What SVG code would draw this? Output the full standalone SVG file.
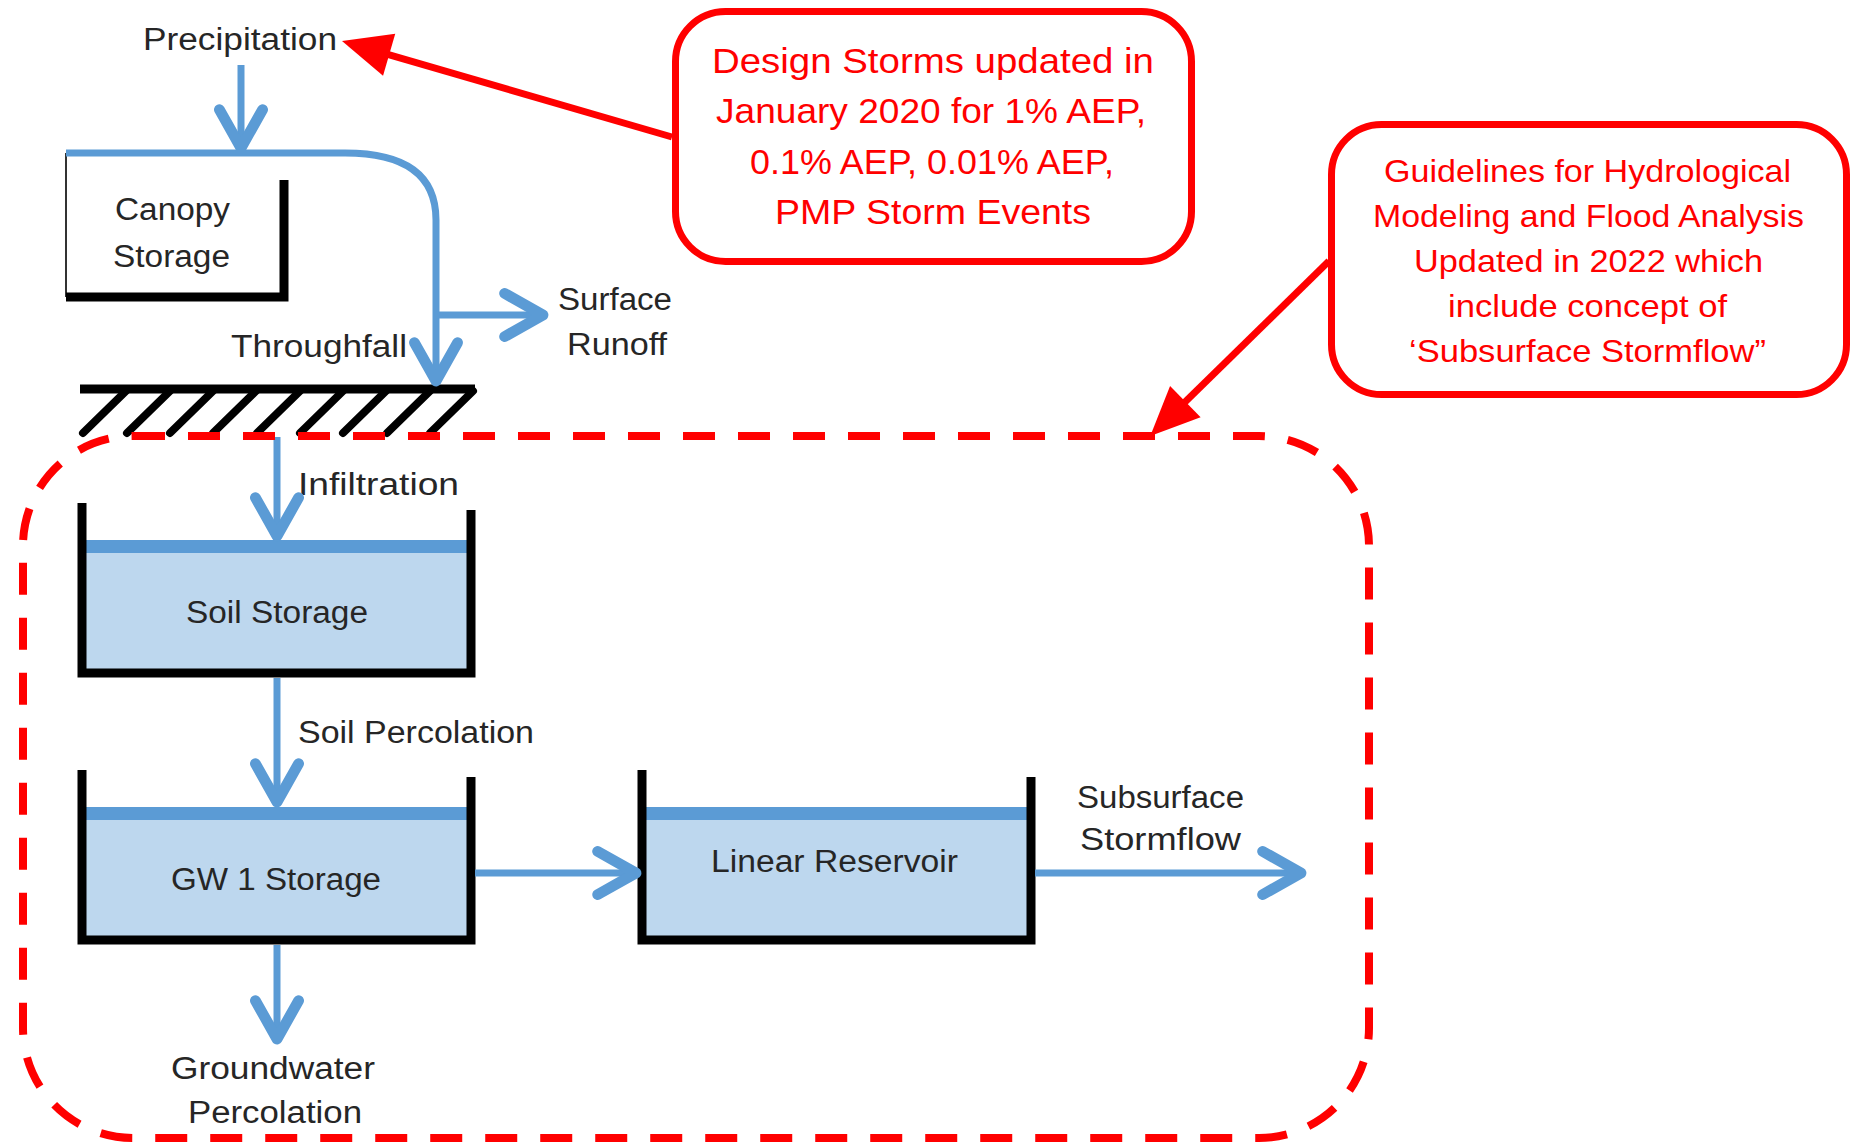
<svg xmlns="http://www.w3.org/2000/svg" width="1858" height="1142" viewBox="0 0 1858 1142">
<defs>
<style>
.lbl{font-family:"Liberation Sans",Arial,sans-serif;font-size:31px;fill:#262626}
.red{font-family:"Liberation Sans",Arial,sans-serif;fill:#FF0000}
.c1{font-size:35px}
.c2{font-size:32px}
.flow{fill:none;stroke:#5B9BD5;stroke-width:7}
.wall{fill:none;stroke:#000;stroke-width:9}
.water{fill:#BDD7EE}
.surf{fill:#5B9BD5}
.box{fill:#fff;stroke:#FF0000;stroke-width:7}
.ptr{fill:none;stroke:#FF0000;stroke-width:7}
</style>
<marker id="bh" markerUnits="userSpaceOnUse" markerWidth="60" markerHeight="60" viewBox="-40 -25 50 50" refX="0" refY="0" orient="auto" overflow="visible">
<path d="M-32,-18 L0,0 L-32,18" fill="none" stroke="#5B9BD5" stroke-width="9" stroke-linecap="round" stroke-linejoin="round"/>
</marker>
<marker id="rh" markerUnits="userSpaceOnUse" markerWidth="60" markerHeight="60" viewBox="-5 -25 55 50" refX="0" refY="0" orient="auto" overflow="visible">
<path d="M-3,-20 L42,0 L-3,20 z" fill="#FF0000"/>
</marker>
</defs>
<rect width="1858" height="1142" fill="#fff"/>

<g id="canopy-storage">
<line x1="66" y1="153" x2="66" y2="297" stroke="#333" stroke-width="2"/>
<polyline points="66,297 284,297 284,180" class="wall"/>
<text class="lbl" x="115" y="220" textLength="115" lengthAdjust="spacingAndGlyphs">Canopy</text>
<text class="lbl" x="113" y="267" textLength="117" lengthAdjust="spacingAndGlyphs">Storage</text>
</g>

<g id="ground">
<line x1="80" y1="389" x2="475" y2="389" stroke="#000" stroke-width="9"/>
<g stroke="#000" stroke-width="8" stroke-linecap="round">
<line x1="126" y1="391" x2="83" y2="433"/>
<line x1="170" y1="391" x2="127" y2="433"/>
<line x1="213" y1="391" x2="170" y2="433"/>
<line x1="256" y1="391" x2="213" y2="433"/>
<line x1="300" y1="391" x2="257" y2="433"/>
<line x1="343" y1="391" x2="300" y2="433"/>
<line x1="386" y1="391" x2="343" y2="433"/>
<line x1="430" y1="391" x2="387" y2="433"/>
<line x1="473" y1="391" x2="430" y2="433"/>
</g>
</g>

<g id="soil-storage">
<rect x="86" y="553" width="381" height="116" class="water"/>
<rect x="86" y="540" width="381" height="13" class="surf"/>
<polyline points="82,503 82,673 471,673 471,510" class="wall"/>
<text class="lbl" x="186" y="623" textLength="182" lengthAdjust="spacingAndGlyphs">Soil Storage</text>
</g>

<g id="gw1-storage">
<rect x="86" y="820" width="381" height="116" class="water"/>
<rect x="86" y="807" width="381" height="13" class="surf"/>
<polyline points="82,770 82,940 471,940 471,777" class="wall"/>
<text class="lbl" x="171" y="890" textLength="210" lengthAdjust="spacingAndGlyphs">GW 1 Storage</text>
</g>

<g id="linear-reservoir">
<rect x="646" y="820" width="381" height="116" class="water"/>
<rect x="646" y="807" width="381" height="13" class="surf"/>
<polyline points="642,770 642,940 1031,940 1031,777" class="wall"/>
<text class="lbl" x="711" y="872" textLength="247" lengthAdjust="spacingAndGlyphs">Linear Reservoir</text>
</g>

<g id="labels">
<text class="lbl" x="143" y="50" textLength="194" lengthAdjust="spacingAndGlyphs">Precipitation</text>
<text class="lbl" x="558" y="310" textLength="114" lengthAdjust="spacingAndGlyphs">Surface</text>
<text class="lbl" x="567" y="355" textLength="100" lengthAdjust="spacingAndGlyphs">Runoff</text>
<text class="lbl" x="231" y="357" textLength="176" lengthAdjust="spacingAndGlyphs">Throughfall</text>
<text class="lbl" x="298" y="495" textLength="161" lengthAdjust="spacingAndGlyphs">Infiltration</text>
<text class="lbl" x="298" y="743" textLength="236" lengthAdjust="spacingAndGlyphs">Soil Percolation</text>
<text class="lbl" x="1077" y="808" textLength="167" lengthAdjust="spacingAndGlyphs">Subsurface</text>
<text class="lbl" x="1080" y="850" textLength="161" lengthAdjust="spacingAndGlyphs">Stormflow</text>
<text class="lbl" x="171" y="1079" textLength="204" lengthAdjust="spacingAndGlyphs">Groundwater</text>
<text class="lbl" x="188" y="1123" textLength="174" lengthAdjust="spacingAndGlyphs">Percolation</text>
</g>

<g id="connectors">
<line x1="241" y1="65" x2="241" y2="148" class="flow" marker-end="url(#bh)"/>
<path d="M66,153 L345,153 Q436,153 436,220 L436,381" class="flow" marker-end="url(#bh)"/>
<line x1="436" y1="315" x2="543" y2="315" class="flow" marker-end="url(#bh)"/>
<line x1="277" y1="437" x2="277" y2="536" class="flow" marker-end="url(#bh)"/>
<line x1="277" y1="678" x2="277" y2="802" class="flow" marker-end="url(#bh)"/>
<line x1="475" y1="873" x2="636" y2="873" class="flow" marker-end="url(#bh)"/>
<line x1="1035" y1="873" x2="1301" y2="873" class="flow" marker-end="url(#bh)"/>
<line x1="277" y1="945" x2="277" y2="1039" class="flow" marker-end="url(#bh)"/>
<line x1="672" y1="137" x2="386" y2="53.8" class="ptr" marker-end="url(#rh)"/>
<line x1="1329" y1="261" x2="1183" y2="404" class="ptr" marker-end="url(#rh)"/>
</g>

<g id="subsurface-region">
<rect x="23" y="436" width="1346" height="702" rx="110" ry="110" fill="none" stroke="#FF0000" stroke-width="8" stroke-dasharray="32 23"/>
</g>

<g id="callout-design-storms">
<rect x="675.5" y="11.5" width="516" height="250" rx="50" ry="50" class="box"/>
<text class="red c1" x="712" y="73" textLength="442" lengthAdjust="spacingAndGlyphs">Design Storms updated in</text>
<text class="red c1" x="716" y="123" textLength="430" lengthAdjust="spacingAndGlyphs">January 2020 for 1% AEP,</text>
<text class="red c1" x="750" y="174" textLength="364" lengthAdjust="spacingAndGlyphs">0.1% AEP, 0.01% AEP,</text>
<text class="red c1" x="775" y="224" textLength="316" lengthAdjust="spacingAndGlyphs">PMP Storm Events</text>
</g>

<g id="callout-guidelines">
<rect x="1331.5" y="124.5" width="515" height="270" rx="50" ry="50" class="box"/>
<text class="red c2" x="1384" y="182" textLength="407" lengthAdjust="spacingAndGlyphs">Guidelines for Hydrological</text>
<text class="red c2" x="1373" y="227" textLength="431" lengthAdjust="spacingAndGlyphs">Modeling and Flood Analysis</text>
<text class="red c2" x="1414" y="272" textLength="349" lengthAdjust="spacingAndGlyphs">Updated in 2022 which</text>
<text class="red c2" x="1448" y="317" textLength="279" lengthAdjust="spacingAndGlyphs">include concept of</text>
<text class="red c2" x="1409" y="362" textLength="357" lengthAdjust="spacingAndGlyphs">‘Subsurface Stormflow”</text>
</g>
</svg>
